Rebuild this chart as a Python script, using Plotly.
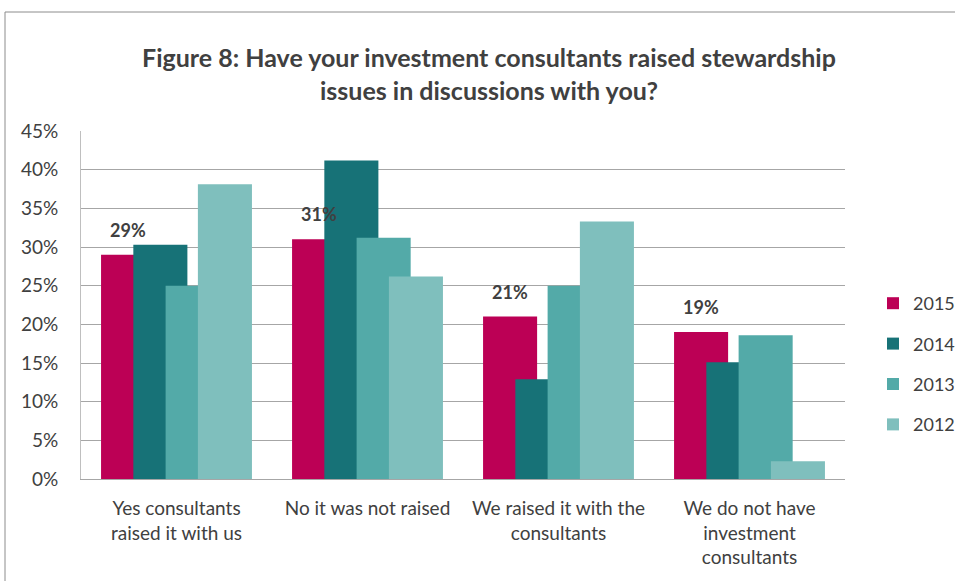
import plotly.graph_objects as go

# Survey responses (% of respondents) by year
categories = [
    "Yes consultants<br>raised it with us",
    "No it was not raised",
    "We raised it with the<br>consultants",
    "We do not have<br>investment<br>consultants",
]
years = ["2015", "2014", "2013", "2012"]
values_2015 = [29, 31, 21, 19]
values_2014 = [30.3, 41.2, 12.9, 15.1]
values_2013 = [25.0, 31.2, 25.0, 18.6]
values_2012 = [38.1, 26.2, 33.3, 2.3]
series = [values_2015, values_2014, values_2013, values_2012]
colors = ["#BC0055", "#177277", "#53AAA8", "#7FBFBD"]
labels_2015 = ["29%", "31%", "21%", "19%"]

# Overlapping clustered bars: each bar is wider than the step between them
BAR_W = 0.283
STEP = 0.169
START = -0.395

FONT = "Lato, 'Open Sans', sans-serif"
TEXT = "#404040"

fig = go.Figure()
xs = list(range(len(categories)))
for k, (yr, vals, col) in enumerate(zip(years, series, colors)):
    fig.add_trace(go.Bar(
        x=xs, y=vals, name=yr,
        marker=dict(color=col, line=dict(width=0)),
        width=BAR_W, offset=START + k * STEP,
        legendgroup=yr,
        hovertemplate="%{y}%<extra>" + yr + "</extra>",
    ))

# Value labels above the 2015 bars
for i, (v, t) in enumerate(zip(values_2015, labels_2015)):
    fig.add_annotation(
        x=i + START + BAR_W / 2, y=v, text="<b>" + t + "</b>",
        showarrow=False, yanchor="bottom", yshift=12,
        font=dict(family=FONT, size=18, color=TEXT),
    )

L, R, T, B = 81, 110, 131, 102
W, H = 955, 581
pw, ph = W - L - R, H - T - B

# Chart frame
fig.add_shape(
    type="rect", xref="paper", yref="paper",
    x0=(5 - L) / pw, x1=(W + 20 - L) / pw,
    y0=-(B + 20) / ph, y1=(H - B - 12) / ph,
    line=dict(color="#8C8C8C", width=1), fillcolor="rgba(0,0,0,0)", layer="below",
)

fig.update_layout(
    width=W, height=H,
    margin=dict(l=L, r=R, t=T, b=B, autoexpand=False),
    paper_bgcolor="white", plot_bgcolor="white",
    barmode="overlay",
    title=dict(
        text="<b>Figure 8: Have your investment consultants raised stewardship<br>issues in discussions with you?</b>",
        x=489 / W, xanchor="center", xref="container",
        y=1 - 67 / H, yanchor="middle", yref="container",
        font=dict(family=FONT, size=25, color=TEXT),
    ),
    font=dict(family=FONT, size=19, color=TEXT),
    legend=dict(
        x=(873 - L) / pw, y=(479 - 364) / ph, xanchor="left", yanchor="middle",
        font=dict(family=FONT, size=18, color=TEXT),
        tracegroupgap=14, bgcolor="rgba(0,0,0,0)",
    ),
    xaxis=dict(
        tickmode="array", tickvals=xs, ticktext=categories,
        range=[-0.5, len(categories) - 0.5],
        showgrid=False, showline=True, linecolor="#A6A6A6", linewidth=1,
        ticks="", ticklabelstandoff=12,
        tickfont=dict(family=FONT, size=19, color=TEXT),
    ),
    yaxis=dict(
        range=[0, 45], dtick=5, ticksuffix="%",
        showgrid=True, gridcolor="#A6A6A6", gridwidth=1,
        showline=True, linecolor="#BFBFBF", linewidth=1,
        zeroline=False, ticks="", ticklabelstandoff=18,
        tickfont=dict(family=FONT, size=19, color=TEXT),
    ),
)

fig.write_html("out.html")
